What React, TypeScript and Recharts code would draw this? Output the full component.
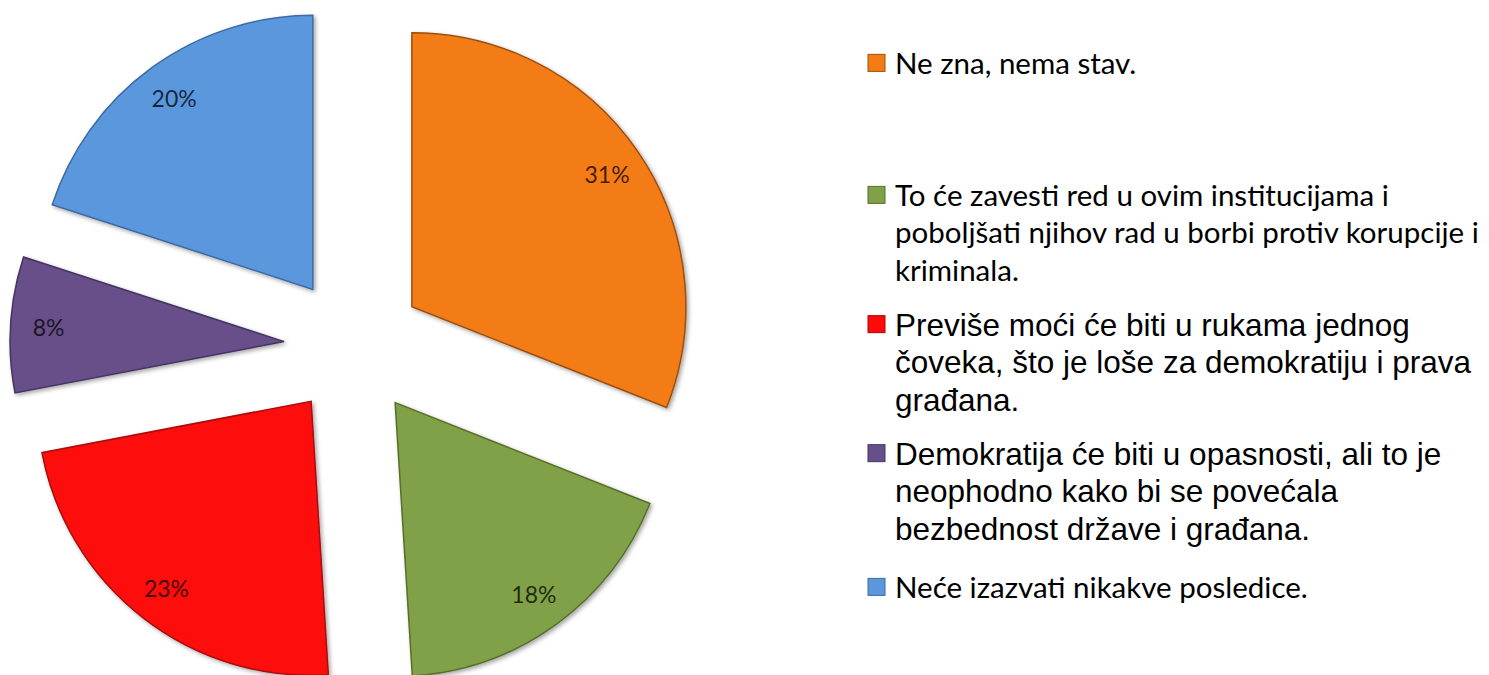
import { PieChart, Pie, Cell, Sector, Legend } from "recharts";

const categories = [
  "Ne zna, nema stav.",
  "To će zavesti red u ovim institucijama i\npoboljšati njihov rad u borbi protiv korupcije i\nkriminala.",
  "Previše moći će biti u rukama jednog\nčoveka, što je loše za demokratiju i prava\ngrađana.",
  "Demokratija će biti u opasnosti, ali to je\nneophodno kako bi se povećala\nbezbednost države i građana.",
  "Neće izazvati nikakve posledice.",
];
const shares = [31, 18, 23, 8, 20];

const colors = ["#F47C14", "#80A147", "#FE0A0A", "#67508A", "#5A97DD"];
const edges = ["#9c4f0e", "#56702c", "#a80808", "#443461", "#3c6aa3"];

const data = categories.map((name, i) => ({ name, value: shares[i] }));

const RAD = Math.PI / 180;
const EXPLODE = 70;
const LABEL_R = 236;

// legend layout (relative to legend box)
const legendBaselines = [74, 206, 336, 465, 598];
const legendFonts = ["Lato", "Lato", "Liberation Sans", "Liberation Sans", "Lato"];
const legendSizes = [29.5, 29.5, 31.5, 31.5, 29.5];
const LINE_STEP = 37.3;
const LEGEND_LEFT = 860;

function ExplodedSlice(props: any) {
  const { cx, cy, midAngle, outerRadius, startAngle, endAngle, index, value } = props;
  const dx = Math.cos(-midAngle * RAD);
  const dy = Math.sin(-midAngle * RAD);
  const ox = cx + EXPLODE * dx;
  const oy = cy + EXPLODE * dy;
  return (
    <g>
      <Sector
        cx={ox}
        cy={oy}
        innerRadius={0}
        outerRadius={outerRadius}
        startAngle={startAngle}
        endAngle={endAngle}
        fill={colors[index]}
        stroke={edges[index]}
        strokeWidth={1.5}
        filter="url(#sliceShadow)"
      />
      <text
        x={ox + LABEL_R * dx}
        y={oy + LABEL_R * dy}
        textAnchor="middle"
        dominantBaseline="central"
        fontFamily="Lato"
        fontSize={23}
        fill="#000"
        fillOpacity={0.75}
      >
        {value}%
      </text>
    </g>
  );
}

function renderLegend(props: any) {
  const payload = props.payload || [];
  return (
    <svg width={629} height={675} style={{ display: "block" }}>
      {payload.map((entry: any) => {
        const i = categories.indexOf(entry.value);
        if (i < 0) return null;
        const lines = categories[i].split("\n");
        const base = legendBaselines[i];
        const capMid = base - legendSizes[i] * 0.36;
        return (
          <g key={i}>
            <rect
              x={868 - LEGEND_LEFT}
              y={capMid - 9}
              width={17}
              height={17}
              fill={colors[i]}
              stroke={edges[i]}
              strokeWidth={1}
            />
            <text fontFamily={legendFonts[i]} fontSize={legendSizes[i]} fill="#000">
              {lines.map((ln, j) => (
                <tspan key={j} x={895 - LEGEND_LEFT} y={base + j * LINE_STEP}>
                  {ln}
                </tspan>
              ))}
            </text>
          </g>
        );
      })}
    </svg>
  );
}

export default function App() {
  return (
    <div style={{ position: "absolute", left: 0, top: 0, width: 1489, height: 675, background: "#fff" }}>
      <PieChart width={1489} height={675} margin={{ top: 0, right: 0, bottom: 0, left: 0 }}>
        <defs>
          <filter id="sliceShadow" x="-20%" y="-20%" width="140%" height="140%">
            <feDropShadow dx="2" dy="2" stdDeviation="2" floodColor="#000" floodOpacity="0.35" />
          </filter>
        </defs>
        <Pie
          data={data}
          dataKey="value"
          nameKey="name"
          cx={354}
          cy={346}
          outerRadius={274}
          startAngle={90}
          endAngle={-270}
          stroke="none"
          label={ExplodedSlice}
          labelLine={false}
          isAnimationActive={false}
        >
          {data.map((d) => (
            <Cell key={d.name} fill="transparent" />
          ))}
        </Pie>
        <Legend
          layout="vertical"
          align="right"
          verticalAlign="top"
          content={renderLegend}
          wrapperStyle={{ left: LEGEND_LEFT, top: 0, width: 629, height: 675 }}
        />
      </PieChart>
    </div>
  );
}
